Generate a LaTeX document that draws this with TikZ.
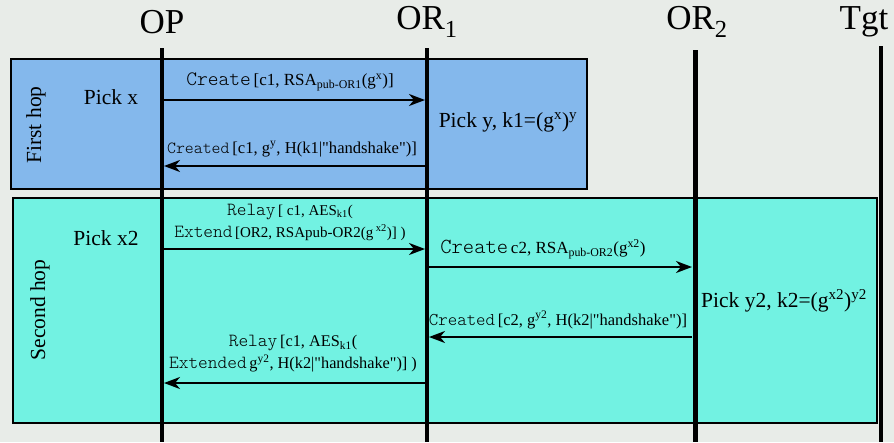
\documentclass[tikz,border=0pt]{standalone}
\usepackage{fontspec}
\setmainfont{Liberation Serif}
\setmonofont{lmmonolt10-regular.otf}
\usetikzlibrary{arrows.meta}
\definecolor{bgc}{HTML}{E8ECE8}
\definecolor{hopA}{HTML}{84B8EC}
\definecolor{hopB}{HTML}{72F2E2}
\def\mtsize{18}
\newcommand{\msgtt}[1]{{\fontsize{\mtsize}{21}\ttfamily\selectfont #1}}
\newcommand{\qq}{\textquotedbl}
\begin{document}
\begin{tikzpicture}[x=1pt,y=-1pt,
  hopbox/.style={draw=black, line width=2pt, anchor=north west, inner sep=0pt},
  life/.style={line width=4pt},
  msg/.style={line width=2.2pt, -{Stealth[length=16pt,width=12pt,inset=5pt]}},
  lbl/.style 2 args={font=\def\mtsize{#2}\fontsize{#1}{22}\selectfont, align=center, inner sep=0pt},
  head/.style={font=\fontsize{35}{38}\selectfont, inner sep=0pt},
  body/.style={font=\fontsize{21.5}{24}\selectfont, inner sep=0pt}]
\fill[bgc] (0,0) rectangle (894,442);
\useasboundingbox (0,0) rectangle (894,442);
% boxes
\node[hopbox, fill=hopA, minimum width=576pt, minimum height=130pt] (hop1) at (10,58) {};
\node[hopbox, fill=hopB, minimum width=864pt, minimum height=225pt] (hop2) at (12,197) {};
% headers
\node[head] (OP) at (162,22) {OP};
\node[head] (OR1) at (427,22) {OR\textsubscript{1}};
\node[head] (OR2) at (697,22) {OR\textsubscript{2}};
\node[head] (Tgt) at (864,22) {Tgt};
% lifelines
\coordinate (OPt) at (162,48); \coordinate (OPb) at (162,442);
\coordinate (OR1t) at (427,48); \coordinate (OR1b) at (427,442);
\coordinate (OR2t) at (695,50); \coordinate (OR2b) at (695,442);
\coordinate (Tgtt) at (881,46); \coordinate (Tgtb) at (881,442);
\draw[life] (OPt) -- (OPb);
\draw[life] (OR1t) -- (OR1b);
\draw[life, line width=5pt] (OR2t) -- (OR2b);
\draw[life] (Tgtt) -- (Tgtb);
% hop titles
\node[body, rotate=90] (first) at (36,125) {First hop};
\node[body, rotate=90] (second) at (40,310) {Second hop};
% notes
\node[body] (pickx) at (111,97) {Pick x};
\node[body] (picky) at (508,122) {Pick y, k1=(g\textsuperscript{x})\textsuperscript{y}};
\node[body] (pickx2) at (106,238) {Pick x2};
\node[body] (picky2) at (784,301) {Pick y2, k2=(g\textsuperscript{x2})\textsuperscript{y2}};
% message coordinates
\coordinate (m1s) at (164,100); \coordinate (m1e) at (425,100);
\coordinate (m2s) at (425,166); \coordinate (m2e) at (164,166);
\coordinate (m3s) at (164,249); \coordinate (m3e) at (425,249);
\coordinate (m4s) at (429,267); \coordinate (m4e) at (692,267);
\coordinate (m5s) at (692,337); \coordinate (m5e) at (429,337);
\coordinate (m6s) at (425,383); \coordinate (m6e) at (164,383);
\draw[msg] (m1s) -- (m1e);
\draw[msg] (m2s) -- (m2e);
\draw[msg] (m3s) -- (m3e);
\draw[msg] (m4s) -- (m4e);
\draw[msg] (m5s) -- (m5e);
\draw[msg] (m6s) -- (m6e);
% labels
\node[lbl={17}{20.5}] (l1) at (290,82) {\msgtt{Create}\,[c1, RSA\textsubscript{pub-OR1}(g\textsuperscript{x})]};
\node[lbl={16.6}{17}] (l2) at (292,149) {\msgtt{Created}\,[c1, g\textsuperscript{y}, H(k1|\qq handshake\qq)]};
\node[lbl={15}{18.5}] (l3) at (290,222) {\msgtt{Relay}\,[ c1, AES\textsubscript{k1}(\\ \msgtt{Extend}\,[OR2, RSApub-OR2(g\,\textsuperscript{x2})] )};
\node[lbl={17}{21.5}] (l4) at (543,249) {\msgtt{Create}\,c2, RSA\textsubscript{pub-OR2}(g\textsuperscript{x2})};
\node[lbl={16.5}{18}] (l5) at (558,320) {\msgtt{Created}\,[c2, g\textsuperscript{y2}, H(k2|\qq handshake\qq)]};
\node[lbl={16.3}{18.5}] (l6) at (293,354) {\msgtt{Relay}\,[c1, AES\textsubscript{k1}(\\ \msgtt{Extended}\,g\textsuperscript{y2}, H(k2|\qq handshake\qq)] )};
\end{tikzpicture}
\end{document}
